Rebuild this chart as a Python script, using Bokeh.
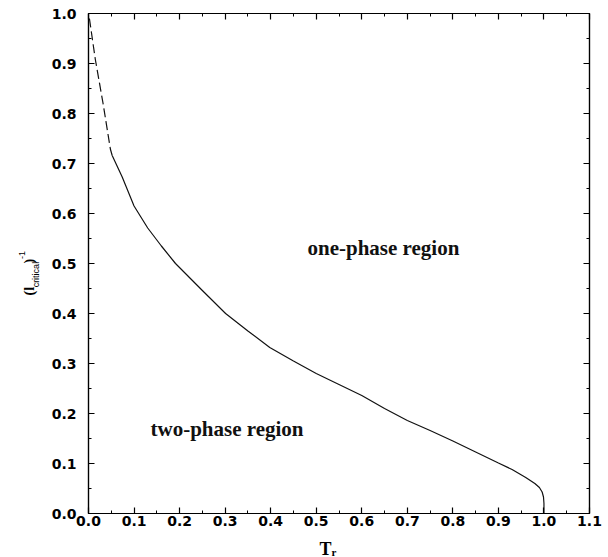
import math
from bokeh.plotting import figure
from bokeh.layouts import row, column
from bokeh.models import Range1d, FixedTicker, LinearAxis, Label, PrintfTickFormatter, CustomJSTickFormatter
from bokeh.core.properties import value
from bokeh.embed import file_html
from bokeh.resources import INLINE

# ---------------- data ----------------
dashed_T = [0.002, 0.015, 0.032, 0.048, 0.052]
dashed_v = [0.990, 0.908, 0.820, 0.729, 0.716]

solid_T = [0.052, 0.074, 0.100, 0.130, 0.160, 0.191, 0.250, 0.301, 0.350, 0.398,
           0.450, 0.500, 0.550, 0.600, 0.650, 0.700, 0.750, 0.800, 0.850, 0.900,
           0.930, 0.960, 0.980, 0.990, 0.996, 0.999, 1.000, 1.000]
solid_v = [0.716, 0.673, 0.615, 0.571, 0.535, 0.500, 0.446, 0.400, 0.365, 0.332,
           0.305, 0.280, 0.258, 0.236, 0.210, 0.186, 0.166, 0.145, 0.123, 0.101,
           0.088, 0.072, 0.060, 0.052, 0.043, 0.033, 0.020, 0.000]

x_ticks = [0.0, 0.1, 0.2, 0.3, 0.4, 0.5, 0.6, 0.7, 0.8, 0.9, 1.0, 1.1]
x_tick_labels = ["0.0", "0.1", "0.2", "0.3", "0.4", "0.5", "0.6", "0.7", "0.8", "0.9", "1.0", "1.1"]
x_minor = [0.05, 0.15, 0.25, 0.35, 0.45, 0.55, 0.65, 0.75, 0.85, 0.95, 1.05]
y_ticks = [0.0, 0.1, 0.2, 0.3, 0.4, 0.5, 0.6, 0.7, 0.8, 0.9, 1.0]
y_tick_labels = ["0.0", "0.1", "0.2", "0.3", "0.4", "0.5", "0.6", "0.7", "0.8", "0.9", "1.0"]
y_minor = [0.05, 0.15, 0.25, 0.35, 0.45, 0.55, 0.65, 0.75, 0.85, 0.95]

region_texts = ["one-phase region", "two-phase region"]
x_label_parts = ["T", "r"]
y_label_parts = ["(l", "critical", ")", "-1"]

SERIF = "Liberation Serif"
SANS = "Liberation Sans"

MAIN_H = 532

# ---------------- main figure ----------------
p = figure(width=562, height=MAIN_H, x_range=Range1d(0, 1.1), y_range=Range1d(0, 1.0),
           output_backend="svg", toolbar_location=None, title_location=None,
           min_border_left=42, min_border_right=19, min_border_top=13,
           min_border_bottom=MAIN_H - 513)
p.grid.visible = False
p.outline_line_color = "black"
p.outline_line_width = 1.2
p.background_fill_color = "white"
p.border_fill_color = "white"

xt = FixedTicker(ticks=x_ticks, minor_ticks=x_minor)
yt = FixedTicker(ticks=y_ticks, minor_ticks=y_minor)


def style_axis(ax, show_labels, standoff):
    ax.major_tick_in = 6
    ax.major_tick_out = 0
    ax.minor_tick_in = 3
    ax.minor_tick_out = 0
    ax.axis_line_color = "black"
    ax.axis_line_width = 1.2
    ax.major_tick_line_color = "black"
    ax.minor_tick_line_color = "black"
    ax.major_tick_line_width = 1.2
    ax.minor_tick_line_width = 1
    ax.major_label_standoff = standoff
    if show_labels:
        ax.major_label_text_font = "DejaVu Sans"
        ax.major_label_text_font_style = "bold"
        ax.major_label_text_font_size = "14px"
        ax.major_label_text_color = "black"
    else:
        ax.formatter = CustomJSTickFormatter(code="return ''")
        ax.major_label_text_font_size = "1px"


xa = p.xaxis[0]
xa.ticker = xt
xa.formatter = PrintfTickFormatter(format="%.1f")
xa.major_label_overrides = {t: s for t, s in zip(x_ticks, x_tick_labels)}
style_axis(xa, True, 2)

ya = p.yaxis[0]
ya.ticker = yt
ya.formatter = PrintfTickFormatter(format="%.1f")
ya.major_label_overrides = {t: s for t, s in zip(y_ticks, y_tick_labels)}
style_axis(ya, True, 12)

top = LinearAxis(ticker=xt)
style_axis(top, False, 0)
p.add_layout(top, "above")
right = LinearAxis(ticker=yt)
style_axis(right, False, 0)
p.add_layout(right, "right")

# curve
p.line(dashed_T, dashed_v, line_color="#111111", line_width=1.2, line_dash="9 4")
p.line(solid_T, solid_v, line_color="#111111", line_width=1.2)


def tx(px):
    return (px - 88) / 501 * 1.1


def ty(py):
    return (513 - py) / 500


p.add_layout(Label(x=tx(307), y=ty(247), text=region_texts[0], text_font=SERIF,
                   text_font_size="21px", text_font_style="bold", text_color="#111111",
                   text_baseline="alphabetic"))
p.add_layout(Label(x=tx(150), y=ty(428), text=region_texts[1], text_font=SERIF,
                   text_font_size="21px", text_font_style="bold", text_color="#111111",
                   text_baseline="alphabetic"))


def strip(w, h):
    f = figure(width=w, height=h, x_range=Range1d(0, w), y_range=Range1d(0, h),
               output_backend="svg", toolbar_location=None, title_location=None,
               min_border=0, x_axis_type=None, y_axis_type=None)
    f.grid.visible = False
    f.outline_line_color = None
    f.background_fill_color = "white"
    f.border_fill_color = "white"
    return f


# ---------------- left strip: rotated y label (l_critical)^-1 ----------------
LH = MAIN_H
pl = strip(46, LH)
ang = math.pi / 2
pl.text(x=[29], y=[LH - 300], text=[y_label_parts[0]], angle=ang, text_font=value(SERIF),
        text_font_size=value("14px"), text_font_style="bold", text_baseline="alphabetic",
        text_color="black")
pl.text(x=[35], y=[LH - 291.4], text=[y_label_parts[1]], angle=ang, text_font=value(SANS),
        text_font_size=value("9px"), text_baseline="alphabetic", text_color="black")
pl.text(x=[29], y=[LH - 265.9], text=[y_label_parts[2]], angle=ang, text_font=value(SERIF),
        text_font_size=value("14px"), text_font_style="bold", text_baseline="alphabetic",
        text_color="black")
pl.text(x=[21], y=[LH - 261.2], text=[y_label_parts[3]], angle=ang, text_font=value(SANS),
        text_font_size=value("9px"), text_baseline="alphabetic", text_color="black")

# ---------------- bottom strip: x label T_r ----------------
BH = 557 - LH
pb = strip(608, BH)
pb.text(x=[319], y=[557 - 548], text=[x_label_parts[0]], text_font=value(SERIF),
        text_font_size=value("18px"), text_font_style="bold", text_baseline="alphabetic",
        text_color="black")
pb.text(x=[331], y=[557 - 551.5], text=[x_label_parts[1]], text_font=value(SERIF),
        text_font_size=value("11px"), text_font_style="bold", text_baseline="alphabetic",
        text_color="black")

layout = column(row(pl, p, spacing=0), pb, spacing=0)
open("out.html", "w").write(file_html(layout, INLINE))
